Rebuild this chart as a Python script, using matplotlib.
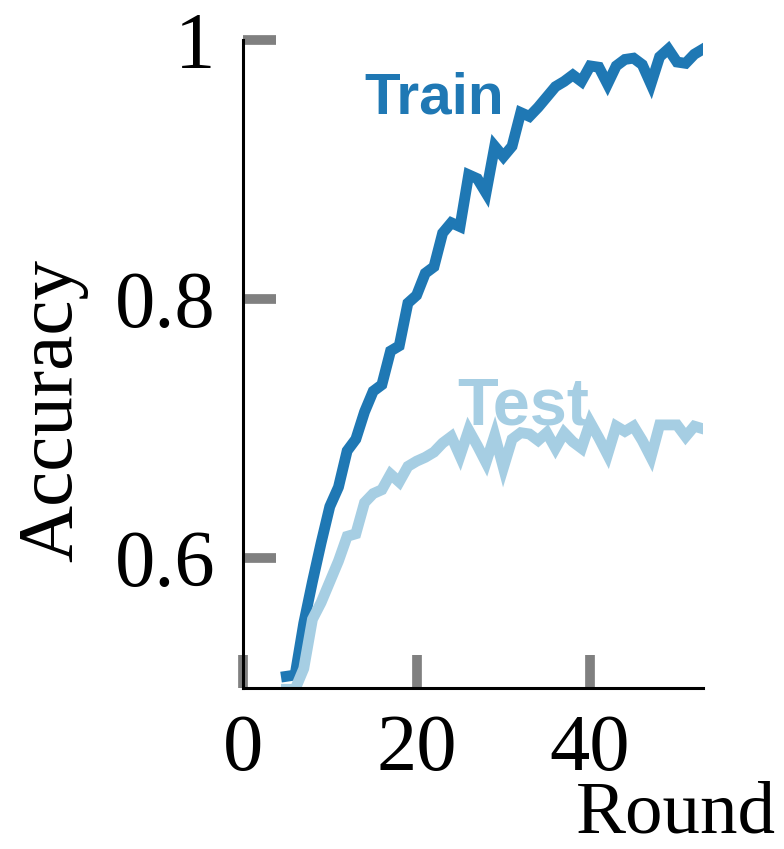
import matplotlib
matplotlib.use("Agg")
import matplotlib.pyplot as plt

plt.rcParams['font.family'] = ['Liberation Serif', 'DejaVu Serif']

rounds = list(range(5, 54))
train = [0.509, 0.510, 0.550, 0.582, 0.612, 0.640, 0.655, 0.683, 0.692, 0.713,
         0.729, 0.734, 0.760, 0.764, 0.797, 0.803, 0.820, 0.825, 0.851, 0.859,
         0.856, 0.896, 0.893, 0.882, 0.918, 0.910, 0.918, 0.944, 0.941, 0.948,
         0.956, 0.964, 0.968, 0.973, 0.968, 0.980, 0.979, 0.966, 0.980, 0.985,
         0.986, 0.981, 0.966, 0.987, 0.993, 0.983, 0.982, 0.989, 0.993]
test = [0.499, 0.499, 0.515, 0.553, 0.566, 0.582, 0.598, 0.617, 0.619, 0.643,
        0.650, 0.653, 0.665, 0.659, 0.671, 0.675, 0.678, 0.682, 0.689, 0.694,
        0.679, 0.699, 0.687, 0.674, 0.695, 0.670, 0.692, 0.697, 0.696, 0.691,
        0.697, 0.685, 0.697, 0.690, 0.685, 0.705, 0.693, 0.680, 0.702, 0.698,
        0.702, 0.691, 0.678, 0.703, 0.703, 0.703, 0.694, 0.702, 0.700]

xticks = [0, 20, 40]
yticks = [0.6, 0.8, 1.0]
yticklabels = ['0.6', '0.8', '1']

fig = plt.figure(figsize=(7.84, 8.49), dpi=100)
ax = fig.add_axes([243/784, 1 - 688/849, 460/784, 648/849])

ax.plot(rounds, train, color='#1f78b4', lw=7.8, solid_joinstyle='miter')
ax.plot(rounds, test, color='#a6cee3', lw=7.8, solid_joinstyle='miter')

ax.set_xlim(0, 53)
ax.set_ylim(0.5, 1.0)
ax.set_xticks(xticks)
ax.set_yticks(yticks)
ax.set_yticklabels(yticklabels)

for s in ['top', 'right']:
    ax.spines[s].set_visible(False)
for s in ['left', 'bottom']:
    ax.spines[s].set_color('black')
    ax.spines[s].set_linewidth(2.2)

ax.tick_params(direction='in', length=24, width=7, color='#808080', labelsize=58)
ax.tick_params(axis='x', pad=19)
ax.tick_params(axis='y', pad=20)

ax.set_ylabel('Accuracy', fontsize=57)
ax.yaxis.set_label_coords(-0.337, 0.429)
ax.set_xlabel('Round', fontsize=54, ha='right')
ax.xaxis.set_label_coords(1.159, -0.143)

ax.text(0.263, 0.887, 'Train', transform=ax.transAxes, color='#1f78b4',
        fontsize=42, fontweight='bold', family='Liberation Sans',
        ha='left', va='baseline')
ax.text(0.465, 0.406, 'Test', transform=ax.transAxes, color='#a6cee3',
        fontsize=48, fontweight='bold', family='Liberation Sans',
        ha='left', va='baseline')

fig.savefig('out.png', dpi=100)
